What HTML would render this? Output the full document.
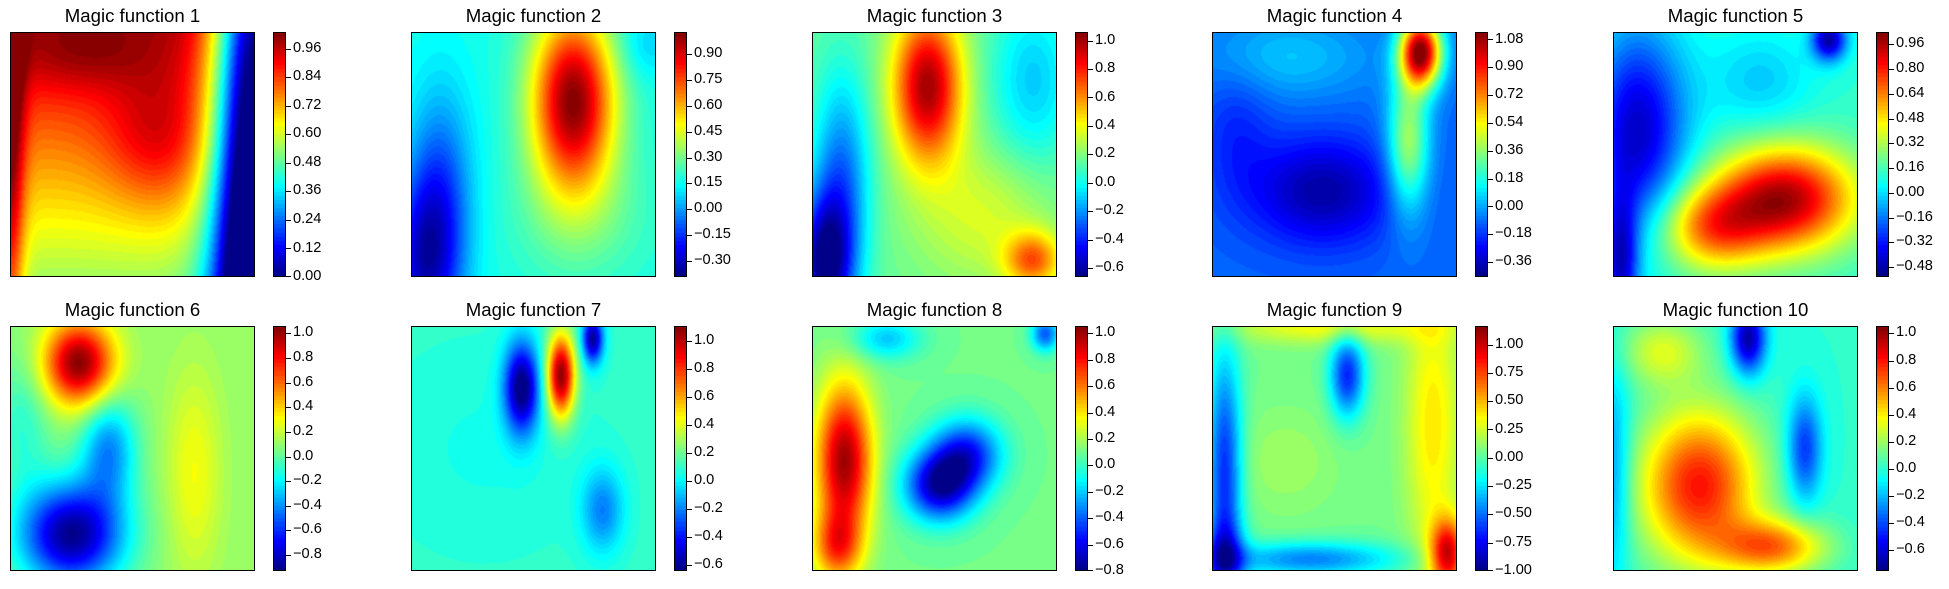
<!DOCTYPE html>
<html><head><meta charset="utf-8"><style>
body{margin:0;background:#fff;width:1949px;height:589px;position:relative;overflow:hidden;font-family:"Liberation Sans",sans-serif}
canvas{position:absolute}
.fr{position:absolute;border:1px solid #000;box-sizing:border-box}
.t{position:absolute;font-size:18.6px;width:245px;text-align:center;color:#000}
.l{position:absolute;font-size:14.6px;color:#000;line-height:1;margin-left:3px}
.k{position:absolute;width:5px;height:1px;background:#000}
</style></head><body>
<div id="root"></div>
<div class="t" style="left:10px;top:5px">Magic function 1</div>
<div class="t" style="left:411px;top:5px">Magic function 2</div>
<div class="t" style="left:812px;top:5px">Magic function 3</div>
<div class="t" style="left:1212px;top:5px">Magic function 4</div>
<div class="t" style="left:1613px;top:5px">Magic function 5</div>
<div class="t" style="left:10px;top:299px">Magic function 6</div>
<div class="t" style="left:411px;top:299px">Magic function 7</div>
<div class="t" style="left:812px;top:299px">Magic function 8</div>
<div class="t" style="left:1212px;top:299px">Magic function 9</div>
<div class="t" style="left:1613px;top:299px">Magic function 10</div>
<div id="labels">
<div class="l" style="left:290px;top:269px">0.00</div><div class="l" style="left:290px;top:240.5px">0.12</div><div class="l" style="left:290px;top:212px">0.24</div><div class="l" style="left:290px;top:183.4px">0.36</div><div class="l" style="left:290px;top:154.8px">0.48</div><div class="l" style="left:290px;top:126.3px">0.60</div><div class="l" style="left:290px;top:97.7px">0.72</div><div class="l" style="left:290px;top:69.2px">0.84</div><div class="l" style="left:290px;top:40.7px">0.96</div>
<div class="l" style="left:691px;top:252.8px">−0.30</div><div class="l" style="left:691px;top:227px">−0.15</div><div class="l" style="left:691px;top:201.2px">0.00</div><div class="l" style="left:691px;top:175.4px">0.15</div><div class="l" style="left:691px;top:149.6px">0.30</div><div class="l" style="left:691px;top:123.8px">0.45</div><div class="l" style="left:691px;top:98px">0.60</div><div class="l" style="left:691px;top:72.2px">0.75</div><div class="l" style="left:691px;top:46.4px">0.90</div>
<div class="l" style="left:1092px;top:260.3px">−0.6</div><div class="l" style="left:1092px;top:231.8px">−0.4</div><div class="l" style="left:1092px;top:203.4px">−0.2</div><div class="l" style="left:1092px;top:174.9px">0.0</div><div class="l" style="left:1092px;top:146.4px">0.2</div><div class="l" style="left:1092px;top:117.9px">0.4</div><div class="l" style="left:1092px;top:89.5px">0.6</div><div class="l" style="left:1092px;top:61px">0.8</div><div class="l" style="left:1092px;top:32.5px">1.0</div>
<div class="l" style="left:1492px;top:254.2px">−0.36</div><div class="l" style="left:1492px;top:226.4px">−0.18</div><div class="l" style="left:1492px;top:198.5px">0.00</div><div class="l" style="left:1492px;top:170.7px">0.18</div><div class="l" style="left:1492px;top:142.8px">0.36</div><div class="l" style="left:1492px;top:115px">0.54</div><div class="l" style="left:1492px;top:87.2px">0.72</div><div class="l" style="left:1492px;top:59.3px">0.90</div><div class="l" style="left:1492px;top:31.5px">1.08</div>
<div class="l" style="left:1893px;top:259.1px">−0.48</div><div class="l" style="left:1893px;top:234.4px">−0.32</div><div class="l" style="left:1893px;top:209.6px">−0.16</div><div class="l" style="left:1893px;top:184.9px">0.00</div><div class="l" style="left:1893px;top:160.1px">0.16</div><div class="l" style="left:1893px;top:135.4px">0.32</div><div class="l" style="left:1893px;top:110.6px">0.48</div><div class="l" style="left:1893px;top:85.9px">0.64</div><div class="l" style="left:1893px;top:61.1px">0.80</div><div class="l" style="left:1893px;top:36.4px">0.96</div>
<div class="l" style="left:290px;top:547px">−0.8</div><div class="l" style="left:290px;top:522.4px">−0.6</div><div class="l" style="left:290px;top:497.8px">−0.4</div><div class="l" style="left:290px;top:473.1px">−0.2</div><div class="l" style="left:290px;top:448.5px">0.0</div><div class="l" style="left:290px;top:423.9px">0.2</div><div class="l" style="left:290px;top:399.3px">0.4</div><div class="l" style="left:290px;top:374.7px">0.6</div><div class="l" style="left:290px;top:350px">0.8</div><div class="l" style="left:290px;top:325.4px">1.0</div>
<div class="l" style="left:691px;top:556.8px">−0.6</div><div class="l" style="left:691px;top:528.8px">−0.4</div><div class="l" style="left:691px;top:500.8px">−0.2</div><div class="l" style="left:691px;top:472.8px">0.0</div><div class="l" style="left:691px;top:444.8px">0.2</div><div class="l" style="left:691px;top:416.8px">0.4</div><div class="l" style="left:691px;top:388.8px">0.6</div><div class="l" style="left:691px;top:360.8px">0.8</div><div class="l" style="left:691px;top:332.8px">1.0</div>
<div class="l" style="left:1092px;top:563px">−0.8</div><div class="l" style="left:1092px;top:536.6px">−0.6</div><div class="l" style="left:1092px;top:510.2px">−0.4</div><div class="l" style="left:1092px;top:483.8px">−0.2</div><div class="l" style="left:1092px;top:457.4px">0.0</div><div class="l" style="left:1092px;top:431px">0.2</div><div class="l" style="left:1092px;top:404.6px">0.4</div><div class="l" style="left:1092px;top:378.2px">0.6</div><div class="l" style="left:1092px;top:351.8px">0.8</div><div class="l" style="left:1092px;top:325.4px">1.0</div>
<div class="l" style="left:1492px;top:563px">−1.00</div><div class="l" style="left:1492px;top:534.7px">−0.75</div><div class="l" style="left:1492px;top:506.4px">−0.50</div><div class="l" style="left:1492px;top:478.1px">−0.25</div><div class="l" style="left:1492px;top:449.8px">0.00</div><div class="l" style="left:1492px;top:421.5px">0.25</div><div class="l" style="left:1492px;top:393.2px">0.50</div><div class="l" style="left:1492px;top:364.9px">0.75</div><div class="l" style="left:1492px;top:336.6px">1.00</div>
<div class="l" style="left:1893px;top:542px">−0.6</div><div class="l" style="left:1893px;top:514.9px">−0.4</div><div class="l" style="left:1893px;top:487.8px">−0.2</div><div class="l" style="left:1893px;top:460.8px">0.0</div><div class="l" style="left:1893px;top:433.7px">0.2</div><div class="l" style="left:1893px;top:406.6px">0.4</div><div class="l" style="left:1893px;top:379.5px">0.6</div><div class="l" style="left:1893px;top:352.5px">0.8</div><div class="l" style="left:1893px;top:325.4px">1.0</div>
</div>
<script>
function jet(t){t=Math.max(0,Math.min(1,t));
function c(x){return Math.max(0,Math.min(1,x));}
var r=c(1.5-Math.abs(4*t-3)),g=c(1.5-Math.abs(4*t-2)),b=c(1.5-Math.abs(4*t-1));
return [r*255|0,g*255|0,b*255|0];}
var P=[
 {min:0,max:1.03,base:[0.97,0,-0.42],G:[[-0.95,1.0,0.5,0.12,3],[0.3,0,0.5,0.04,1],[0.15,0.6,0.45,0.15,0.2],[0.08,0.3,0.1,0.2,0.1]],tk:[0,.12,.24,.36,.48,.6,.72,.84,.96]},
 {min:-0.394,max:1.03,base:[0.17,0,0],G:[[0.85,0.66,0.28,0.12,0.26],[-0.4,0.05,0.95,0.1,0.25],[-0.25,0.12,0.65,0.09,0.3],[-0.1,0.95,0.05,0.08,0.1],[0.1,0.7,0.75,0.2,0.2]],tk:[-.3,-.15,0,.15,.3,.45,.6,.75,.9]},
 {min:-0.661,max:1.06,base:[0.15,0,0],G:[[0.85,0.47,0.22,0.1,0.22],[-0.75,0.05,0.95,0.08,0.2],[-0.4,0.12,0.6,0.08,0.3],[-0.25,0.9,0.2,0.12,0.25],[0.5,0.9,0.93,0.08,0.08],[0.2,0.7,0.75,0.2,0.2]],tk:[-.6,-.4,-.2,0,.2,.4,.6,.8,1]},
 {min:-0.456,max:1.128,base:[-0.1,0,0],G:[[-0.3,0.45,0.65,0.2,0.15],[1.2,0.85,0.08,0.06,0.1],[0.5,0.8,0.45,0.06,0.2],[0.15,0.3,0.1,0.25,0.12],[-0.1,0.1,0.4,0.1,0.2]],tk:[-.36,-.18,0,.18,.36,.54,.72,.9,1.08]},
 {min:-0.544,max:1.04,base:[0.12,0,0],G:[[-0.55,0.1,0.4,0.14,0.3],[-0.5,0.03,0.95,0.05,0.2],[0.85,0.7,0.68,0.2,0.15],[0.5,0.4,0.8,0.15,0.12],[-0.6,0.88,0.03,0.05,0.06],[-0.15,0.6,0.2,0.15,0.15]],tk:[-.48,-.32,-.16,0,.16,.32,.48,.64,.8,.96]},
 {min:-0.93,max:1.06,base:[0.1,0,0],G:[[0.95,0.28,0.15,0.1,0.12],[-1.0,0.25,0.85,0.15,0.15],[-0.5,0.4,0.5,0.08,0.15],[0.2,0.75,0.6,0.08,0.3],[-0.2,0.05,0.4,0.08,0.2]],tk:[-.8,-.6,-.4,-.2,0,.2,.4,.6,.8,1]},
 {min:-0.644,max:1.106,base:[0.1,0,0],G:[[-0.75,0.45,0.25,0.05,0.13],[1.0,0.61,0.2,0.04,0.12],[-0.7,0.74,0.05,0.03,0.07],[-0.3,0.78,0.75,0.06,0.12],[-0.05,0.3,0.5,0.3,0.3]],tk:[-.6,-.4,-.2,0,.2,.4,.6,.8,1]},
 {min:-0.8,max:1.056,base:[0.1,0,0],G:[[0.9,0.13,0.55,0.08,0.22],[0.5,0.1,0.9,0.07,0.1],[-0.8,0.52,0.65,0.1,0.1],[-0.6,0.63,0.52,0.1,0.1],[-0.3,0.3,0.05,0.1,0.06],[-0.5,0.95,0.03,0.04,0.05]],tk:[-.8,-.6,-.4,-.2,0,.2,.4,.6,.8,1]},
 {min:-1,max:1.164,base:[0.05,0,0],G:[[-0.7,0.05,0.6,0.05,0.35],[-0.5,0.05,0.95,0.06,0.1],[-0.5,0.4,0.95,0.25,0.05],[0.35,0.9,0.4,0.08,0.4],[0.9,0.96,0.93,0.05,0.1],[-0.7,0.55,0.2,0.05,0.12],[0.3,0.5,0,0.3,0.05],[0.1,0.3,0.55,0.15,0.15]],tk:[-1,-.75,-.5,-.25,0,.25,.5,.75,1]},
 {min:-0.755,max:1.055,base:[0.0,0,0],G:[[0.8,0.35,0.65,0.17,0.22],[0.6,0.65,0.9,0.15,0.08],[-0.7,0.55,0.05,0.05,0.1],[-0.45,0.78,0.5,0.05,0.15],[0.3,0.2,0.1,0.12,0.1],[-0.3,0,0.6,0.05,0.3]],tk:[-.6,-.4,-.2,0,.2,.4,.6,.8,1]}
];
var cols=[10,411,812,1212,1613],rows=[32,326],S=245,root=document.getElementById('root');
P.forEach(function(p,i){
 var X=cols[i%5],Y=rows[i/5|0];
 var cv=document.createElement('canvas');cv.width=S;cv.height=S;cv.style.left=X+'px';cv.style.top=Y+'px';
 var ctx=cv.getContext('2d'),im=ctx.createImageData(S,S),d=im.data,L=60;
 for(var yy=0;yy<S;yy++)for(var xx=0;xx<S;xx++){
  var x=xx/S,y=yy/S,v=p.base[0]+p.base[1]*x+p.base[2]*y;
  p.G.forEach(function(g){var dx=(x-g[1])/g[3],dy=(y-g[2])/g[4];v+=g[0]*Math.exp(-(dx*dx+dy*dy)/2);});
  var t=(v-p.min)/(p.max-p.min);t=Math.floor(Math.max(0,Math.min(0.999,t))*L)/L+0.5/L;
  var c=jet(t),o=(yy*S+xx)*4;d[o]=c[0];d[o+1]=c[1];d[o+2]=c[2];d[o+3]=255;}
 ctx.putImageData(im,0,0);root.appendChild(cv);
 var f=document.createElement('div');f.className='fr';f.style.cssText='left:'+X+'px;top:'+Y+'px;width:'+S+'px;height:'+S+'px';root.appendChild(f);
 var cb=document.createElement('canvas');cb.width=12;cb.height=S;cb.style.left=(X+263)+'px';cb.style.top=Y+'px';
 var c2=cb.getContext('2d');
 for(var yy=0;yy<S;yy++){var t=1-yy/S;t=Math.floor(Math.min(.999,t)*L)/L+0.5/L;var c=jet(t);c2.fillStyle='rgb('+c+')';c2.fillRect(0,yy,12,1);}
 root.appendChild(cb);
 var f2=document.createElement('div');f2.className='fr';f2.style.cssText='left:'+(X+263)+'px;top:'+Y+'px;width:13px;height:'+S+'px';root.appendChild(f2);
 p.tk.forEach(function(v){var k=document.createElement('div');k.className='k';k.style.left=(X+276)+'px';k.style.top=Math.min(Y+S-1,Math.round(Y+S-(v-p.min)/(p.max-p.min)*S))+'px';root.appendChild(k);});
});
</script>
</body></html>
